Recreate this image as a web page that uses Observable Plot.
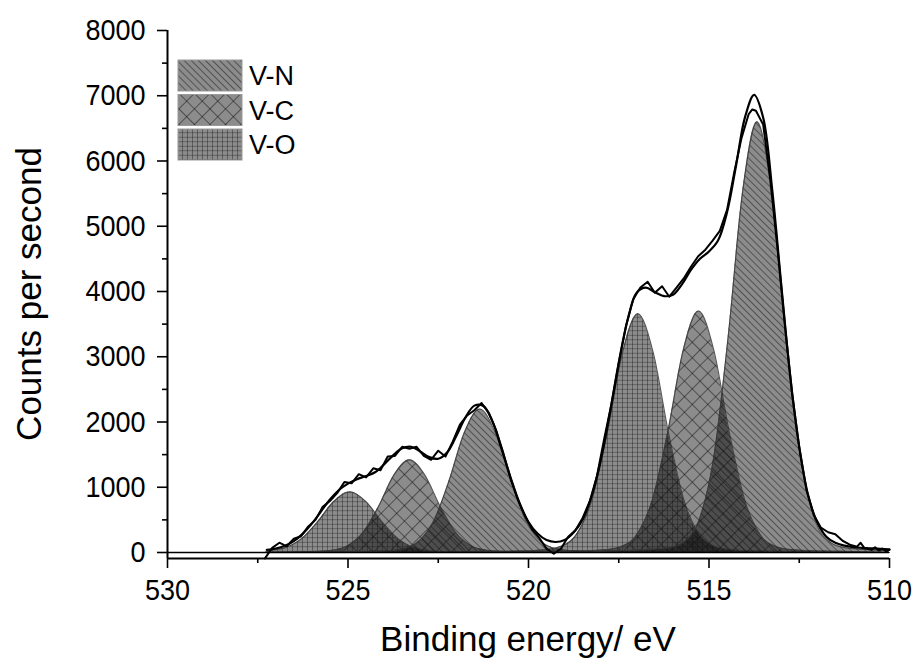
<!DOCTYPE html>
<html><head><meta charset="utf-8">
<script src="https://cdn.jsdelivr.net/npm/d3@7"></script>
<script src="https://cdn.jsdelivr.net/npm/@observablehq/plot@0.6"></script>
<style>body{margin:0;background:#fff}#chart{width:917px;height:663px}</style>
</head><body><div id="chart"></div>
<script>
// ---- data (binding energy eV, counts per second) ----
const series = ["V-N", "V-C", "V-O"];
const xTicks = [530, 525, 520, 515, 510];
const xMinor = [527.5, 522.5, 517.5, 512.5];
const yTicks = [0, 1000, 2000, 3000, 4000, 5000, 6000, 7000, 8000];
const yMinor = [500, 1500, 2500, 3500, 4500, 5500, 6500, 7500];
const xDomain = [530, 510];
const yDomain = [-92, 8000];

const peakVO1 = [[527.3,0],[527.2,24],[526.75,71],[526.3,205],[525.85,465],[525.4,778],[524.95,930],[524.5,778],[524.05,465],[523.6,205],[523.15,71],[522.7,24],[522.25,11],[521.35,5],[520.45,4],[519.5,0]];
const peakVC1 = [[527.3,0],[526.7,8],[525.85,17],[525.425,36],[525.0,108],[524.575,312],[524.15,710],[523.725,1189],[523.3,1420],[522.875,1189],[522.45,710],[522.025,312],[521.6,108],[521.175,36],[520.75,17],[519.9,8],[519.05,5],[518.2,0]];
const peakVN1 = [[526.5,0],[525.6,8],[524.75,13],[523.9,26],[523.475,56],[523.05,167],[522.625,484],[522.2,1100],[521.775,1841],[521.35,2200],[520.925,1841],[520.5,1100],[520.075,484],[519.65,167],[519.225,56],[518.8,26],[517.95,13],[517.1,8],[516.2,0]];
const peakVO2 = [[522.1,0],[521.22,14],[520.37,22],[519.52,43],[519.095,94],[518.67,278],[518.245,805],[517.82,1830],[517.395,3063],[516.97,3660],[516.545,3063],[516.12,1830],[515.695,805],[515.27,278],[514.845,94],[514.42,43],[513.57,22],[512.72,14],[511.8,0]];
const peakVC2 = [[520.4,0],[519.54,14],[518.69,22],[517.84,44],[517.415,95],[516.99,281],[516.565,814],[516.14,1850],[515.715,3097],[515.29,3700],[514.865,3097],[514.44,1850],[514.015,814],[513.59,281],[513.165,95],[512.74,44],[511.89,22],[511.04,14],[510.0,0]];
const peakVN2 = [[518.6,0],[517.67,25],[516.87,39],[516.07,78],[515.67,169],[515.27,502],[514.87,1452],[514.47,3300],[514.07,5524],[513.67,6600],[513.27,5524],[512.87,3300],[512.47,1452],[512.07,502],[511.67,169],[511.27,78],[510.47,39],[510.0,30]];

const envelope = [[527.25,41],[527.0,61],[526.75,102],[526.5,174],[526.25,289],[526.0,443],[525.75,628],[525.5,813],[525.25,958],[525.0,1056],[524.75,1124],[524.5,1172],[524.25,1230],[524.0,1351],[523.75,1488],[523.5,1597],[523.25,1621],[523.0,1549],[522.75,1462],[522.5,1437],[522.25,1536],[522.0,1786],[521.75,2065],[521.5,2251],[521.25,2246],[521.0,2012],[520.75,1596],[520.5,1155],[520.25,761],[520.0,468],[519.75,290],[519.5,190],[519.25,161],[519.0,191],[518.75,307],[518.5,503],[518.25,866],[518.0,1409],[517.75,2126],[517.5,2910],[517.25,3576],[517.0,3985],[516.75,4059],[516.5,3990],[516.25,3930],[516.0,3950],[515.75,4110],[515.5,4330],[515.25,4501],[515.0,4614],[514.75,4781],[514.5,5215],[514.25,5931],[514.0,6676],[513.75,7013],[513.5,6666],[513.25,5564],[513.0,4114],[512.75,2703],[512.5,1611],[512.25,869],[512.0,460],[511.75,242],[511.5,148],[511.25,106],[511.0,82],[510.75,71],[510.5,63],[510.25,56],[510.0,50]];

const rawData = [[527.3,-90],[527.1,70],[526.9,150],[526.7,95],[526.5,210],[526.3,250],[526.1,400],[525.9,500],[525.7,700],[525.5,790],[525.3,910],[525.1,1080],[524.9,1060],[524.7,1200],[524.5,1150],[524.3,1290],[524.1,1260],[523.9,1470],[523.7,1480],[523.5,1620],[523.3,1590],[523.1,1620],[522.9,1480],[522.7,1420],[522.5,1560],[522.3,1470],[522.1,1700],[521.9,1960],[521.7,2100],[521.5,2180],[521.3,2290],[521.1,2140],[520.9,1880],[520.7,1530],[520.5,1140],[520.3,820],[520.1,560],[519.9,350],[519.7,220],[519.5,60],[519.3,-20],[519.1,60],[518.9,240],[518.7,340],[518.5,530],[518.3,790],[518.1,1180],[517.9,1750],[517.7,2280],[517.5,2900],[517.3,3470],[517.1,3880],[516.9,4060],[516.7,4150],[516.5,3980],[516.3,4080],[516.1,3920],[515.9,4060],[515.7,4200],[515.5,4380],[515.3,4540],[515.1,4640],[514.9,4780],[514.7,4930],[514.5,5250],[514.3,5830],[514.1,6350],[513.9,6720],[513.8,6790],[513.7,6770],[513.5,6560],[513.3,5700],[513.1,4650],[512.9,3500],[512.7,2450],[512.5,1620],[512.3,960],[512.1,580],[511.9,380],[511.7,310],[511.5,280],[511.3,180],[511.1,120],[510.9,90],[510.8,150],[510.7,70],[510.5,40],[510.4,80],[510.3,30],[510.2,60],[510.1,20],[510.0,40]];

// ---- build ----
const patId = {"V-N": "pat-vn", "V-C": "pat-vc", "V-O": "pat-vo"};
const components = [
  {series: "V-O", pts: peakVO1}, {series: "V-C", pts: peakVC1}, {series: "V-N", pts: peakVN1},
  {series: "V-O", pts: peakVO2}, {series: "V-C", pts: peakVC2}, {series: "V-N", pts: peakVN2}
];
const X = d => d[0], Y = d => d[1];
const FONT = "'Liberation Sans', Arial, Helvetica, sans-serif";

const marks = [];
for (const c of components) {
  marks.push(Plot.areaY(c.pts, {x: X, y: Y, curve: "monotone-x", fill: "#000", fillOpacity: 0.45}));
}
for (const c of components) {
  marks.push(Plot.areaY(c.pts, {x: X, y: Y, curve: "monotone-x", fill: `url(#${patId[c.series]})`}));
  marks.push(Plot.lineY(c.pts, {x: X, y: Y, curve: "monotone-x", stroke: "#3a3a3a", strokeOpacity: 0.85, strokeWidth: 1.1}));
}
marks.push(
  Plot.ruleY([0], {stroke: "#000", strokeWidth: 1.6}),
  Plot.lineY(envelope, {x: X, y: Y, curve: "catmull-rom", stroke: "#000", strokeWidth: 2.2}),
  Plot.lineY(rawData, {x: X, y: Y, stroke: "#000", strokeWidth: 2, strokeLinejoin: "round"}),
  Plot.ruleX([xDomain[0]], {stroke: "#000", strokeWidth: 2}),
  Plot.ruleY([yDomain[0]], {stroke: "#000", strokeWidth: 2}),
  Plot.axisX({ticks: xTicks, tickSize: 10, tickPadding: 10, strokeWidth: 1.6, fontSize: 30, tickFormat: d => String(d), label: null}),
  Plot.axisX({ticks: xMinor, tickSize: 5, strokeWidth: 1.6, tickFormat: () => "", label: null}),
  Plot.axisY({ticks: yTicks, tickSize: 10, tickPadding: 12, strokeWidth: 1.6, fontSize: 30, tickFormat: d => String(d), label: null}),
  Plot.axisY({ticks: yMinor, tickSize: 5, strokeWidth: 1.6, tickFormat: () => "", label: null})
);

const chart = Plot.plot({
  width: 917, height: 663,
  marginLeft: 167, marginRight: 28, marginTop: 30, marginBottom: 105,
  x: {domain: xDomain, label: null},
  y: {domain: yDomain, label: null},
  style: {fontFamily: FONT, fontSize: "30px", color: "#000", background: "#fff", overflow: "visible"},
  marks
});
document.getElementById("chart").appendChild(chart);

// ---- slightly condensed tick labels (as in the reference) ----
const svg = d3.select(chart);
svg.selectAll('g[aria-label="x-axis tick label"] text, g[aria-label="y-axis tick label"] text')
  .each(function () {
    const t = d3.select(this);
    const tr = t.attr("transform") || "";
    t.attr("transform", tr + " scale(0.9,1)");
  });

// ---- patterns, titles, legend ----
const defs = svg.insert("defs", ":first-child");
function pat(id, w, h, rot, lines, sw) {
  const p = defs.append("pattern").attr("id", id).attr("patternUnits", "userSpaceOnUse")
    .attr("width", w).attr("height", h);
  if (rot) p.attr("patternTransform", `rotate(${rot})`);
  for (const [x1, y1, x2, y2] of lines)
    p.append("line").attr("x1", x1).attr("y1", y1).attr("x2", x2).attr("y2", y2)
      .attr("stroke", "#111").attr("stroke-opacity", 0.6).attr("stroke-width", sw);
}
pat("pat-vn", 5, 5, -45, [[2.5, -1, 2.5, 6]], 0.8);
pat("pat-vc", 11, 11, 45, [[5.5, -1, 5.5, 12], [-1, 5.5, 12, 5.5]], 0.85);
pat("pat-vo", 5, 4.5, 0, [[2.5, -1, 2.5, 6], [-1, 2.25, 6, 2.25]], 0.6);

svg.append("text").attr("transform", "translate(41,294) rotate(-90)")
  .attr("text-anchor", "middle").attr("font-family", FONT).attr("font-size", 35).attr("fill", "#000")
  .text("Counts per second");
svg.append("text").attr("x", 528).attr("y", 651)
  .attr("text-anchor", "middle").attr("font-family", FONT).attr("font-size", 35).attr("fill", "#000")
  .text("Binding energy/ eV");

const lg = svg.append("g");
series.forEach((s, i) => {
  const y0 = 60 + i * 34.5;
  lg.append("rect").attr("x", 178).attr("y", y0).attr("width", 64).attr("height", 31)
    .attr("fill", "#000").attr("fill-opacity", 0.45);
  lg.append("rect").attr("x", 178).attr("y", y0).attr("width", 64).attr("height", 31)
    .attr("fill", `url(#${patId[s]})`).attr("stroke", "#999").attr("stroke-width", 1);
  lg.append("text").attr("x", 249).attr("y", y0 + 25).attr("text-anchor", "start")
    .attr("font-family", FONT).attr("font-size", 27).attr("fill", "#000").text(s);
});
</script>
</body></html>
